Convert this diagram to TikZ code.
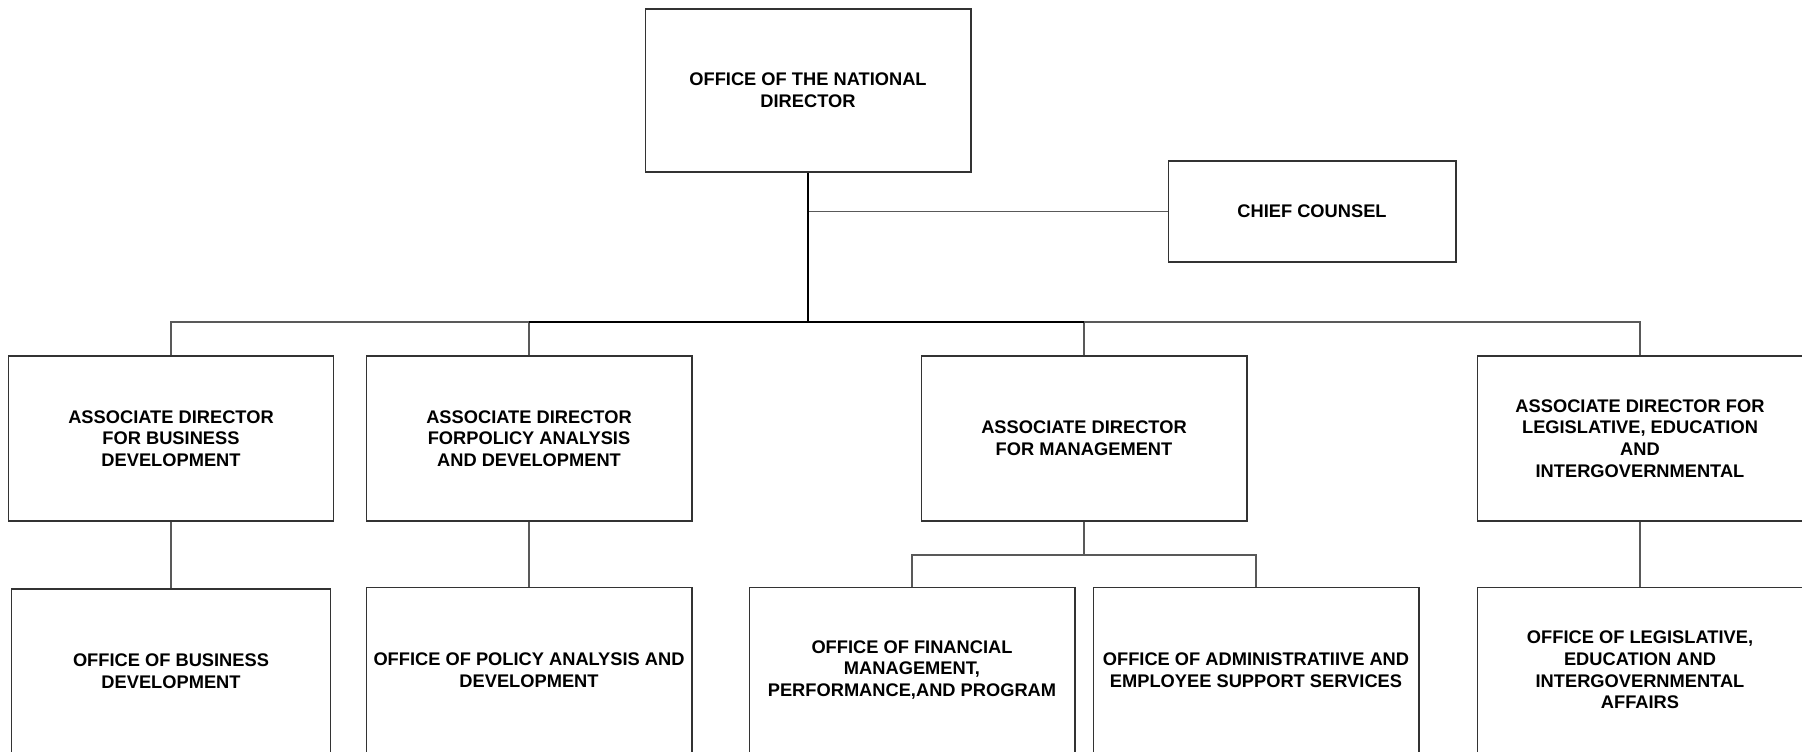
\documentclass[tikz,border=0pt]{standalone}
\usepackage{fontspec}
\setmainfont{Liberation Sans}
\usepackage{tikz}
\usetikzlibrary{calc}

\begin{document}
\begin{tikzpicture}[x=0.02cm,y=-0.02cm,
box/.style={draw=black!80,line width=0.6pt,minimum width=6.52cm,minimum height=3.3cm,
  align=center,inner sep=1pt,font=\bfseries\fontsize{10.4}{12.4}\selectfont},
link/.style={draw=black!65,line width=0.6pt},
trunk/.style={draw=black,line width=1.2pt}]
\clip (0,0) rectangle (1802,751);
% top level
\node[box,minimum height=3.26cm] (nd) at (808,90.5) {OFFICE OF THE NATIONAL\\DIRECTOR};
\node[box,minimum width=5.76cm,minimum height=2.02cm] (cc) at (1312,211.5) {CHIEF COUNSEL};
% associate directors
\node[box] (adbd) at (171,438.5) {ASSOCIATE DIRECTOR\\FOR BUSINESS\\DEVELOPMENT};
\node[box] (adpa) at (529,438.5) {ASSOCIATE DIRECTOR\\FORPOLICY ANALYSIS\\AND DEVELOPMENT};
\node[box] (adm) at (1084,438.5) {ASSOCIATE DIRECTOR\\FOR MANAGEMENT};
\node[box] (adle) at (1640,438.5) {ASSOCIATE DIRECTOR FOR\\LEGISLATIVE, EDUCATION\\AND\\INTERGOVERNMENTAL};
% offices
\node[box,minimum width=6.4cm] (obd) at (171,671.5) {OFFICE OF BUSINESS\\DEVELOPMENT};
\node[box] (opa) at (529,670) {OFFICE OF POLICY ANALYSIS AND\\DEVELOPMENT};
\node[box] (ofm) at (912,670) {OFFICE OF FINANCIAL\\MANAGEMENT,\\PERFORMANCE,AND PROGRAM};
\node[box] (oas) at (1256,670) {OFFICE OF ADMINISTRATIIVE AND\\EMPLOYEE SUPPORT SERVICES};
\node[box] (ole) at (1640,670) {OFFICE OF LEGISLATIVE,\\EDUCATION AND\\INTERGOVERNMENTAL\\AFFAIRS};
\coordinate (bus) at (808,322);
\coordinate (mbus) at (1084,555);
% connectors
\draw[link] (nd.south |- cc.west) -- (cc.west);
\draw[link] (adbd.north) -- (adbd.north |- bus) -- (adpa.north |- bus) -- (adpa.north);
\draw[link] (adm.north) -- (adm.north |- bus) -- (adle.north |- bus) -- (adle.north);
\draw[trunk] (nd.south) -- (bus);
\draw[trunk] (adpa.north |- bus) -- (adm.north |- bus);
\draw[link] (adbd) -- (obd);
\draw[link] (adpa) -- (opa);
\draw[link] (adle) -- (ole);
\draw[link] (adm.south) -- (mbus);
\draw[link] (ofm.north) |- (mbus) -| (oas.north);
\end{tikzpicture}
\end{document}
